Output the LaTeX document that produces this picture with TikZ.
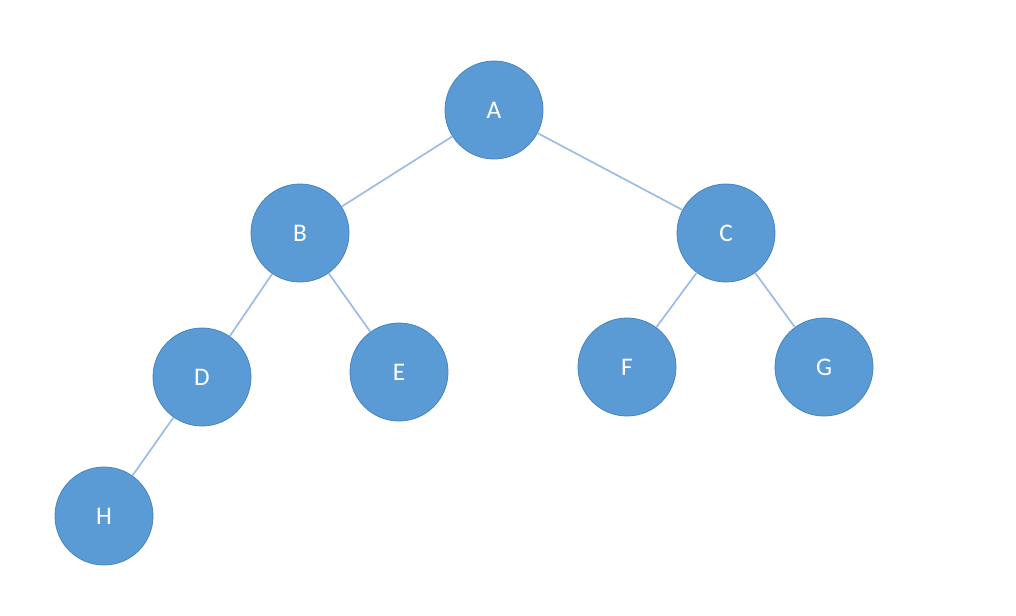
\documentclass[tikz,border=0pt]{standalone}
\usepackage{fontspec}
\setmainfont{Carlito}
\definecolor{nodefill}{HTML}{5B9BD5}
\definecolor{nodeborder}{HTML}{4A84BC}
\definecolor{edgecol}{HTML}{9DBDE3}
\begin{document}
\begin{tikzpicture}[x=0.75pt,y=-0.75pt,
  tnode/.style={circle,fill=nodefill,draw=nodeborder,line width=0.6pt,minimum size=73.5pt,inner sep=0pt,text=white,font=\fontsize{19}{22}\selectfont},
  tedge/.style={draw=edgecol,line width=1.3pt}]
\useasboundingbox (0,0) rectangle (1016,615);
\node[tnode] (A) at (494,110) {A};
\node[tnode] (B) at (300,233) {B};
\node[tnode] (C) at (726,233) {C};
\node[tnode] (D) at (202,377) {D};
\node[tnode] (E) at (399,372) {E};
\node[tnode] (F) at (627,367) {F};
\node[tnode] (G) at (824,367) {G};
\node[tnode] (H) at (104,516) {H};
\path[tedge] (A) -- (B);
\path[tedge] (A) -- (C);
\path[tedge] (B) -- (D);
\path[tedge] (B) -- (E);
\path[tedge] (C) -- (F);
\path[tedge] (C) -- (G);
\path[tedge] (D) -- (H);
\end{tikzpicture}
\end{document}
